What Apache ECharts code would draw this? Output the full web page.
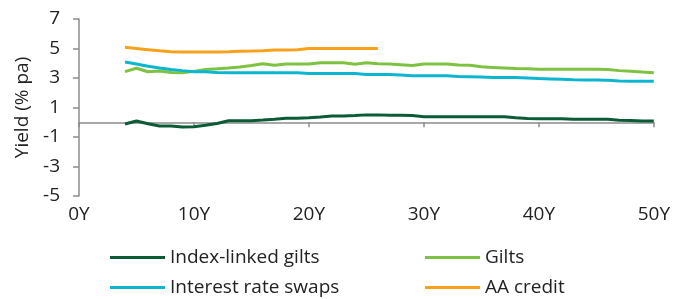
<!DOCTYPE html>
<html>
<head>
<meta charset="utf-8">
<script src="https://cdn.jsdelivr.net/npm/echarts@6/dist/echarts.min.js"></script>
<style>
  html, body { margin: 0; padding: 0; background: #fff; }
  #chart { width: 673px; height: 299px; }
</style>
</head>
<body>
<div id="chart"></div>
<script>
// tenor in years
const tenors = [4, 5, 6, 7, 8, 9, 10, 11, 12, 13, 14, 15, 16, 17, 18, 19, 20, 21, 22, 23, 24, 25, 26, 27,
  28, 29, 30, 31, 32, 33, 34, 35, 36, 37, 38, 39, 40, 41, 42, 43, 44, 45, 46, 47, 48, 49, 50];

const indexLinked = [-0.12, 0.08, -0.1, -0.25, -0.26, -0.33, -0.3, -0.2, -0.08, 0.1, 0.11, 0.11, 0.15, 0.2,
  0.27, 0.27, 0.3, 0.36, 0.43, 0.43, 0.45, 0.5, 0.5, 0.48, 0.47, 0.45, 0.38, 0.38, 0.38, 0.38, 0.38, 0.38,
  0.38, 0.38, 0.3, 0.26, 0.24, 0.24, 0.23, 0.2, 0.2, 0.2, 0.2, 0.14, 0.12, 0.09, 0.08];

const gilts = [3.43, 3.66, 3.42, 3.48, 3.37, 3.36, 3.45, 3.58, 3.62, 3.68, 3.75, 3.85, 3.97, 3.86, 3.95,
  3.95, 3.95, 4.03, 4.04, 4.04, 3.93, 4.03, 3.96, 3.95, 3.9, 3.85, 3.95, 3.95, 3.95, 3.88, 3.86, 3.76,
  3.72, 3.68, 3.64, 3.62, 3.59, 3.59, 3.59, 3.59, 3.59, 3.59, 3.57, 3.5, 3.45, 3.4, 3.36];

const swaps = [4.09, 3.95, 3.8, 3.68, 3.58, 3.5, 3.43, 3.42, 3.38, 3.36, 3.36, 3.36, 3.36, 3.36, 3.36,
  3.36, 3.3, 3.3, 3.3, 3.3, 3.3, 3.24, 3.24, 3.24, 3.2, 3.16, 3.16, 3.16, 3.16, 3.1, 3.09, 3.07, 3.04,
  3.03, 3.03, 3.0, 2.96, 2.94, 2.92, 2.88, 2.87, 2.86, 2.84, 2.8, 2.78, 2.78, 2.78];

// AA credit only runs to 26Y
const aaTenors = [4, 5, 6, 7, 8, 9, 10, 11, 12, 13, 14, 15, 16, 17, 18, 19, 20, 21, 22, 23, 24, 25, 26];
const aaCredit = [5.08, 5.0, 4.92, 4.84, 4.78, 4.77, 4.77, 4.77, 4.77, 4.78, 4.82, 4.83, 4.85, 4.9, 4.9,
  4.92, 5.0, 5.0, 5.0, 5.0, 5.0, 5.0, 5.0];

const yTicks = [-5, -3, -1, 1, 3, 5, 7];

const pairs = (xs, ys) => xs.map((x, i) => [x, ys[i]]);

const font = 'Open Sans';
const axisGrey = '#8c8c8c';

const chart = echarts.init(document.getElementById('chart'));

const line = (name, xs, ys, color) => ({
  name: name,
  type: 'line',
  data: pairs(xs, ys),
  showSymbol: false,
  symbol: 'none',
  lineStyle: { color: color, width: 3 },
  itemStyle: { color: color },
  animation: false
});

const legendBase = {
  orient: 'vertical',
  top: 247,
  padding: 0,
  icon: 'rect',
  itemWidth: 55,
  itemHeight: 3,
  itemGap: 9,
  textStyle: { fontFamily: font, fontSize: 19, color: '#222', lineHeight: 21 }
};

chart.setOption({
  animation: false,
  grid: { left: 79, right: 18, top: 19, bottom: 103, containLabel: false },
  legend: [
    Object.assign({ left: 110, data: ['Index-linked gilts', 'Interest rate swaps'] }, legendBase),
    Object.assign({ left: 425, data: ['Gilts', 'AA credit'] }, legendBase)
  ],
  xAxis: [
    {
      type: 'value', min: 0, max: 50, interval: 10,
      axisLine: { onZero: true, lineStyle: { color: axisGrey, width: 1.5 } },
      axisTick: { show: true, length: 5, lineStyle: { color: axisGrey, width: 1.5 } },
      axisLabel: { show: false },
      splitLine: { show: false }
    },
    {
      type: 'value', min: 0, max: 50, interval: 10, position: 'bottom',
      axisLine: { show: false, onZero: false },
      axisTick: { show: false },
      axisLabel: { margin: 9, formatter: '{value}Y', fontFamily: font, fontSize: 19, color: '#222' },
      splitLine: { show: false }
    }
  ],
  yAxis: {
    type: 'value', min: -5, max: 7, interval: 1,
    name: 'Yield (% pa)',
    nameLocation: 'middle',
    nameGap: 44,
    nameTextStyle: { fontFamily: font, fontSize: 19, color: '#222' },
    axisLine: { show: true, lineStyle: { color: axisGrey, width: 1.5 } },
    axisTick: { show: true, length: 6, customValues: yTicks, lineStyle: { color: axisGrey, width: 1.5 } },
    axisLabel: { margin: 19, customValues: yTicks, fontFamily: font, fontSize: 19, color: '#222' },
    splitLine: { show: false }
  },
  series: [
    line('Index-linked gilts', tenors, indexLinked, '#0b5c36'),
    line('Gilts', tenors, gilts, '#7ec242'),
    line('Interest rate swaps', tenors, swaps, '#0db6d0'),
    line('AA credit', aaTenors, aaCredit, '#f8a11a')
  ]
});
</script>
</body>
</html>
